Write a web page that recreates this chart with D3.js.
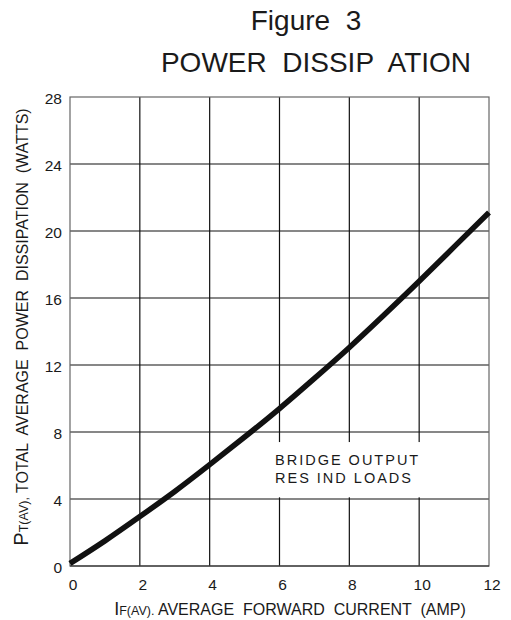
<!DOCTYPE html>
<html><head><meta charset="utf-8">
<script src="https://cdn.jsdelivr.net/npm/d3@7"></script>
<style>body{margin:0;background:#fff}svg{display:block}text{font-family:"Liberation Sans",Arial,sans-serif;fill:#1a1a1a}</style>
</head><body>
<script>
const xTicks = [0, 2, 4, 6, 8, 10, 12];
const yTicks = [0, 4, 8, 12, 16, 20, 24, 28];
const current = [0, 1, 2, 3, 4, 5, 6, 7, 8, 9, 10, 11, 12];
const power = [0.15, 1.5, 2.95, 4.45, 6.05, 7.7, 9.4, 11.2, 13.05, 15.0, 17.0, 19.05, 21.1];

const W = 511, H = 620;
const m = {left: 70, right: 22, top: 97, bottom: 54};
const svg = d3.select("body").append("svg").attr("width", W).attr("height", H);
const x = d3.scaleLinear().domain([0, 12]).range([m.left, W - m.right]);
const y = d3.scaleLinear().domain([0, 28]).range([H - m.bottom, m.top]);

// grid
const g = svg.append("g");
g.selectAll(".vx").data(xTicks.slice(1, -1)).join("line")
  .attr("x1", d => x(d)).attr("x2", d => x(d)).attr("y1", y(0)).attr("y2", y(28))
  .attr("stroke", "#111").attr("stroke-width", 1.2);
g.selectAll(".hy").data(yTicks.slice(1, -1)).join("line")
  .attr("y1", d => y(d)).attr("y2", d => y(d)).attr("x1", x(0)).attr("x2", x(12))
  .attr("stroke", "#111").attr("stroke-width", 1.2);

// label box covering grid
svg.append("rect").attr("x", x(5.5)).attr("y", y(7.4)).attr("width", x(10.2) - x(5.5)).attr("height", y(4.1) - y(7.4)).attr("fill", "#fff");

// frame
svg.append("rect").attr("x", x(0)).attr("y", y(28)).attr("width", x(12) - x(0)).attr("height", y(0) - y(28))
  .attr("fill", "none").attr("stroke", "#666").attr("stroke-width", 1.2);
svg.append("line").attr("x1", x(0)).attr("x2", x(12)).attr("y1", y(0)).attr("y2", y(0)).attr("stroke", "#222").attr("stroke-width", 1.2);

// curve
const line = d3.line().x((d, i) => x(current[i])).y(d => y(d)).curve(d3.curveNatural);
svg.append("path").datum(power).attr("d", line).attr("fill", "none").attr("stroke", "#111").attr("stroke-width", 5.5);

// tick labels
svg.selectAll(".xt").data(xTicks).join("text").attr("x", d => x(d) + 3).attr("y", 590)
  .attr("text-anchor", "middle").attr("font-size", 15.5).text(d => d);
svg.selectAll(".yt").data(yTicks).join("text").attr("x", 62).attr("y", d => y(d) + 7)
  .attr("text-anchor", "end").attr("font-size", 15.5).text(d => d);

// label
const lab = svg.append("text").attr("font-size", 14.5).attr("letter-spacing", 2);
lab.append("tspan").attr("x", 275).attr("y", 465).text("BRIDGE OUTPUT");
lab.append("tspan").attr("x", 275).attr("y", 483).text("RES IND LOADS");

// titles
svg.append("text").attr("x", 306).attr("y", 30).attr("text-anchor", "middle").attr("font-size", 28).attr("xml:space", "preserve").text("Figure  3");
svg.append("text").attr("x", 316).attr("y", 72).attr("text-anchor", "middle").attr("font-size", 28).attr("xml:space", "preserve").text("POWER  DISSIP  ATION");

// x axis title
const xt = svg.append("text").attr("x", 290).attr("y", 615).attr("text-anchor", "middle").attr("font-size", 16).attr("xml:space", "preserve");
xt.append("tspan").attr("font-size", 18).text("I");
xt.append("tspan").attr("font-size", 12.5).text("F(AV).");
xt.append("tspan").text(" AVERAGE  FORWARD  CURRENT  (AMP)");

// y axis title
const yt = svg.append("text").attr("transform", "translate(28,327) rotate(-90)").attr("text-anchor", "middle").attr("font-size", 16).attr("xml:space", "preserve");
yt.append("tspan").attr("font-size", 20).text("P");
yt.append("tspan").attr("font-size", 12.5).text("T(AV),");
yt.append("tspan").text(" TOTAL  AVERAGE  POWER  DISSIPATION  (WATTS)");
</script>
</body></html>
